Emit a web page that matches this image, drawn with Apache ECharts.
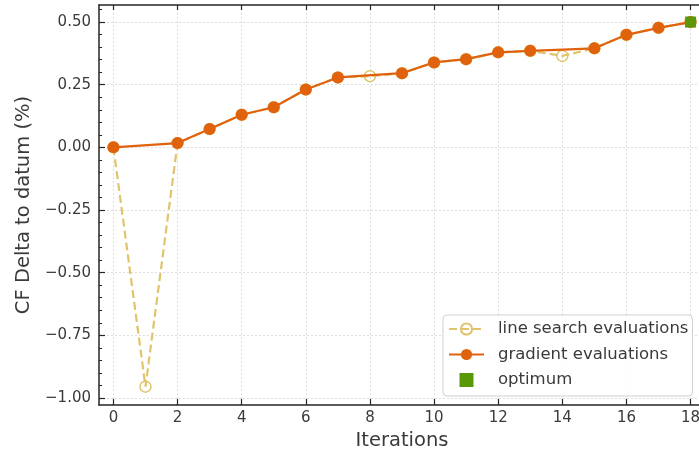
<!DOCTYPE html>
<html>
<head>
<meta charset="utf-8">
<script src="https://cdn.jsdelivr.net/npm/echarts@6/dist/echarts.min.js"></script>
<style>
  html, body { margin: 0; padding: 0; background: #fff; }
  #chart { width: 699px; height: 453px; }
</style>
</head>
<body>
<div id="chart"></div>
<script>
// Optimisation history: every evaluation, the gradient steps and the optimum
const iterations = [0, 1, 2, 3, 4, 5, 6, 7, 8, 9, 10, 11, 12, 13, 14, 15, 16, 17, 18];
const lineSearchValues = [0.000, -0.955, 0.017, 0.073, 0.130, 0.160, 0.231, 0.279, 0.284, 0.296,
                          0.339, 0.352, 0.379, 0.385, 0.365, 0.395, 0.449, 0.477, 0.500];
const gradientIterations = [0, 2, 3, 4, 5, 6, 7, 9, 10, 11, 12, 13, 15, 16, 17, 18];
const gradientValues = [0.000, 0.017, 0.073, 0.130, 0.160, 0.231, 0.279, 0.296,
                        0.339, 0.352, 0.379, 0.385, 0.395, 0.449, 0.477, 0.500];
const optimumIteration = [18];
const optimumValue = [0.500];

const xTicks = [0, 2, 4, 6, 8, 10, 12, 14, 16, 18];
const yTicks = [-1.00, -0.75, -0.50, -0.25, 0.00, 0.25, 0.50];
const yMinorTicks = [-1.00, -0.95, -0.90, -0.85, -0.80, -0.75, -0.70, -0.65, -0.60, -0.55, -0.50,
                     -0.45, -0.40, -0.35, -0.30, -0.25, -0.20, -0.15, -0.10, -0.05, 0.00,
                     0.05, 0.10, 0.15, 0.20, 0.25, 0.30, 0.35, 0.40, 0.45, 0.50, 0.55];

const FONT = 'DejaVu Sans';
const AXIS_COLOR = '#262626';
const TEXT_COLOR = '#3a3a3a';
const GRID_COLOR = '#dedede';
const ORANGE = '#e0620d';
const KHAKI = '#e0c46c';
const GREEN = '#5a980a';

const pairs = (xs, ys) => xs.map((x, i) => [x, ys[i]]);
const fmt = v => {
  const s = Math.abs(v).toFixed(2);
  return (v < -1e-9 ? '\u2212' : '') + s;
};

const X_MIN = -0.45, X_MAX = 18.45;
const Y_MIN = -1.028, Y_MAX = 0.568;

const chart = echarts.init(document.getElementById('chart'), null, { renderer: 'canvas' });

chart.setOption({
  animation: false,
  backgroundColor: '#ffffff',
  textStyle: { fontFamily: FONT },
  grid: { left: 99, top: 5, width: 606, height: 400, containLabel: false, outerBoundsMode: 'none' },
  xAxis: [
    {
      type: 'value', position: 'bottom', min: X_MIN, max: X_MAX,
      name: 'Iterations', nameLocation: 'middle', nameGap: 24,
      nameTextStyle: { fontFamily: FONT, fontSize: 19.5, color: TEXT_COLOR, verticalAlign: 'top' },
      axisLine: { show: true, onZero: false, lineStyle: { color: AXIS_COLOR, width: 1.5 } },
      axisTick: { show: true, inside: true, length: 6, customValues: xTicks, lineStyle: { color: AXIS_COLOR, width: 1.2 } },
      axisLabel: { show: true, customValues: xTicks, margin: 6, fontFamily: FONT, fontSize: 15, color: TEXT_COLOR },
      splitLine: { show: true, lineStyle: { color: GRID_COLOR, width: 1, type: [2, 2] } }
    },
    {
      type: 'value', position: 'top', min: X_MIN, max: X_MAX,
      axisLine: { show: true, onZero: false, lineStyle: { color: AXIS_COLOR, width: 1.5 } },
      axisTick: { show: true, inside: true, length: 5, customValues: xTicks, lineStyle: { color: AXIS_COLOR, width: 1.2 } },
      axisLabel: { show: false },
      splitLine: { show: false }
    }
  ],
  yAxis: [
    {
      type: 'value', position: 'left', min: Y_MIN, max: Y_MAX,
      name: 'CF Delta to datum (%)', nameLocation: 'middle', nameGap: 64, nameRotate: 90,
      nameTextStyle: { fontFamily: FONT, fontSize: 19.5, color: TEXT_COLOR },
      axisLine: { show: true, onZero: false, lineStyle: { color: AXIS_COLOR, width: 1.5 } },
      axisTick: { show: true, inside: true, length: 6, customValues: yTicks, lineStyle: { color: AXIS_COLOR, width: 1.2 } },
      axisLabel: { show: true, customValues: yTicks, margin: 8, fontFamily: FONT, fontSize: 15, color: TEXT_COLOR, formatter: fmt },
      splitLine: { show: true, lineStyle: { color: GRID_COLOR, width: 1, type: [2, 2] } }
    },
    {
      type: 'value', position: 'left', min: Y_MIN, max: Y_MAX,
      axisLine: { show: false, onZero: false },
      axisTick: { show: true, inside: true, length: 3, customValues: yMinorTicks, lineStyle: { color: AXIS_COLOR, width: 1 } },
      axisLabel: { show: false },
      splitLine: { show: false }
    }
  ],
  legend: {
    orient: 'vertical', left: 443, top: 315,
    backgroundColor: 'rgba(255,255,255,0.85)',
    borderColor: '#d0d0d0', borderWidth: 1, borderRadius: 4,
    padding: [5, 4, 7, 5],
    itemWidth: 35, itemHeight: 14, itemGap: 7.5,
    textStyle: { fontFamily: FONT, fontSize: 16.5, color: TEXT_COLOR, lineHeight: 18, padding: [0, 0, 0, 9] },
    data: [
      { name: 'line search evaluations' },
      { name: 'gradient evaluations' },
      { name: 'optimum', icon: 'path://M0,0H10V10H0Z', itemStyle: { color: GREEN, opacity: 1 } }
    ]
  },
  series: [
    {
      name: 'line search evaluations', type: 'line',
      xAxisIndex: 0, yAxisIndex: 0, z: 2,
      data: pairs(iterations, lineSearchValues),
      symbol: 'circle', symbolSize: 11, showAllSymbol: true,
      lineStyle: { color: KHAKI, width: 2.2, type: [8, 4] },
      itemStyle: { color: 'rgba(255,255,255,0)', borderColor: KHAKI, borderWidth: 1.5 }
    },
    {
      name: 'gradient evaluations', type: 'line',
      xAxisIndex: 0, yAxisIndex: 0, z: 3,
      data: pairs(gradientIterations, gradientValues),
      symbol: 'circle', symbolSize: 12, showAllSymbol: true,
      lineStyle: { color: ORANGE, width: 2.2 },
      itemStyle: { color: ORANGE, borderWidth: 0 }
    },
    {
      name: 'optimum', type: 'scatter',
      xAxisIndex: 0, yAxisIndex: 0, z: 4,
      data: pairs(optimumIteration, optimumValue),
      symbol: 'rect', symbolSize: 11,
      itemStyle: { color: GREEN, opacity: 1 }
    }
  ]
});
</script>
</body>
</html>
